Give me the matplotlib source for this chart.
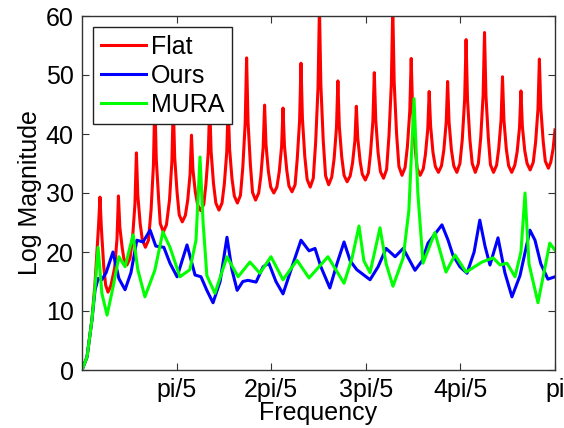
import matplotlib
matplotlib.use("Agg")
import matplotlib.pyplot as plt

plt.rcParams['font.family'] = ['Liberation Sans', 'DejaVu Sans']

# frequency in units of pi
flat_freq = [0.0, 0.0106, 0.021, 0.0275, 0.0317, 0.035, 0.038, 0.041, 0.046,
             0.050, 0.055, 0.061, 0.069, 0.074, 0.077, 0.080, 0.085,
             0.0885, 0.095, 0.1015, 0.107, 0.112, 0.115, 0.118, 0.123,
             0.1275, 0.134, 0.1405, 0.146, 0.151, 0.154, 0.157, 0.162,
             0.1655, 0.172, 0.1785, 0.185, 0.190, 0.193, 0.196, 0.201,
             0.2055, 0.212, 0.2185, 0.2235, 0.2285, 0.2315, 0.2345, 0.2395,
             0.2445, 0.251, 0.2575, 0.262, 0.267, 0.270, 0.273, 0.278,
             0.283, 0.2895, 0.296, 0.301, 0.306, 0.309, 0.312, 0.317,
             0.322, 0.3285, 0.335, 0.340, 0.345, 0.348, 0.351, 0.356,
             0.3605, 0.367, 0.3735, 0.378, 0.383, 0.386, 0.389, 0.394,
             0.399, 0.4055, 0.412, 0.417, 0.422, 0.425, 0.428, 0.433,
             0.4375, 0.444, 0.4505, 0.455, 0.460, 0.463, 0.466, 0.471,
             0.476, 0.4825, 0.489, 0.494, 0.499, 0.502, 0.505, 0.510,
             0.515, 0.5215, 0.528, 0.533, 0.538, 0.541, 0.544, 0.549,
             0.554, 0.5605, 0.567, 0.572, 0.577, 0.580, 0.583, 0.588,
             0.5925, 0.599, 0.6055, 0.610, 0.615, 0.618, 0.621, 0.626,
             0.631, 0.6375, 0.644, 0.649, 0.654, 0.657, 0.660, 0.665,
             0.670, 0.6765, 0.683, 0.688, 0.693, 0.696, 0.699, 0.704,
             0.7085, 0.715, 0.7215, 0.726, 0.731, 0.734, 0.737, 0.742,
             0.747, 0.7535, 0.760, 0.765, 0.770, 0.773, 0.776, 0.781,
             0.786, 0.7925, 0.799, 0.804, 0.809, 0.812, 0.815, 0.820,
             0.825, 0.8315, 0.838, 0.843, 0.848, 0.851, 0.854, 0.859,
             0.8635, 0.870, 0.8765, 0.881, 0.886, 0.889, 0.892, 0.897,
             0.902, 0.9085, 0.915, 0.920, 0.925, 0.928, 0.931, 0.936,
             0.941, 0.9475, 0.954, 0.959, 0.964, 0.967, 0.970, 0.975,
             0.9795, 0.986, 0.991, 0.996, 1.0]
flat_vals = [0.0, 2.2, 8.5, 14.7, 20.3, 24.5, 29.3, 24.0, 17.5,
             14.4, 13.2, 14.3, 17.3, 22.2, 29.5, 24.2, 20.7,
             18.9, 17.8, 18.9, 22.5, 28.2, 36.8, 29.6, 24.8,
             22.1, 20.8, 22.0, 27.1, 34.7, 46.0, 35.8, 29.0,
             24.8, 23.4, 24.6, 28.8, 35.3, 45.0, 36.0, 30.1,
             26.3, 25.1, 26.2, 28.8, 33.2, 39.8, 34.0, 30.2,
             28.0, 27.0, 28.1, 31.5, 36.9, 45.0, 37.0, 31.6,
             28.3, 27.1, 28.3, 31.6, 36.9, 45.0, 37.5, 32.5,
             29.5, 28.3, 29.6, 34.4, 41.8, 52.9, 42.1, 34.8,
             30.1, 28.8, 30.0, 32.8, 37.7, 44.9, 38.2, 33.7,
             31.0, 30.0, 31.0, 33.6, 37.9, 44.4, 38.0, 33.8,
             31.2, 30.2, 31.4, 35.7, 42.2, 52.0, 42.6, 36.2,
             32.3, 31.0, 32.5, 38.6, 47.9, 61.5, 48.3, 38.9,
             32.9, 31.4, 32.7, 35.8, 41.1, 49.0, 41.3, 36.2,
             33.0, 31.9, 32.9, 35.1, 38.9, 44.7, 39.3, 35.4,
             33.2, 32.2, 33.4, 36.8, 42.2, 50.4, 42.4, 36.8,
             33.6, 32.5, 34.0, 39.7, 48.5, 61.5, 48.8, 40.1,
             34.5, 33.0, 34.3, 37.9, 43.9, 52.8, 43.9, 37.9,
             34.2, 33.0, 34.1, 36.5, 40.8, 47.2, 41.4, 36.9,
             34.5, 33.5, 34.6, 37.3, 42.0, 48.9, 42.0, 37.3,
             34.6, 33.5, 35.0, 39.1, 45.9, 56.0, 45.9, 39.1,
             35.0, 33.5, 35.0, 39.4, 46.5, 57.2, 46.5, 39.4,
             34.8, 33.5, 34.7, 37.5, 42.4, 49.7, 42.4, 37.5,
             34.6, 33.5, 34.7, 37.0, 41.1, 47.3, 41.3, 37.2,
             35.0, 33.9, 35.2, 38.6, 44.2, 52.7, 44.4, 38.8,
             35.4, 34.2, 35.2, 37.5, 40.7]

ours_freq = [0.0, 0.0106, 0.021, 0.0275, 0.034, 0.042, 0.051, 0.0655, 0.078, 0.091,
             0.1035, 0.116, 0.129, 0.144, 0.156, 0.173, 0.186, 0.201, 0.222, 0.239,
             0.2515, 0.264, 0.277, 0.292, 0.3065, 0.317, 0.328, 0.340, 0.351, 0.368,
             0.383, 0.395, 0.410, 0.425, 0.444, 0.463, 0.480, 0.4926, 0.505, 0.524,
             0.539, 0.554, 0.567, 0.581, 0.609, 0.626, 0.643, 0.662, 0.679, 0.704,
             0.719, 0.7315, 0.761, 0.774, 0.784, 0.799, 0.814, 0.829, 0.841, 0.852,
             0.8625, 0.8795, 0.894, 0.909, 0.926, 0.947, 0.9577, 0.970, 0.985, 1.0]
ours_vals = [0.0, 2.2, 8.5, 13.5, 15.5, 15.3, 16.5, 20.0, 15.5, 13.6,
             16.5, 22.0, 21.7, 23.7, 21.0, 20.8, 18.1, 15.8, 21.2, 16.1,
             15.8, 13.5, 11.4, 15.0, 22.5, 17.0, 13.5, 15.0, 15.2, 14.9,
             17.5, 18.1, 15.0, 12.9, 17.5, 22.0, 20.2, 20.6, 17.5, 13.9,
             18.0, 21.7, 18.5, 17.0, 15.3, 17.5, 20.6, 19.2, 20.6, 16.9,
             18.5, 21.5, 24.6, 22.0, 19.5, 17.5, 16.4, 20.0, 25.4, 21.0,
             17.8, 22.4, 16.5, 12.4, 16.0, 23.7, 22.0, 18.0, 15.4, 15.8]

mura_freq = [0.0, 0.0106, 0.021, 0.0275, 0.034, 0.042, 0.053, 0.0655, 0.078, 0.091,
             0.108, 0.118, 0.133, 0.154, 0.171, 0.186, 0.207, 0.228, 0.241, 0.2495,
             0.256, 0.264, 0.281, 0.3065, 0.330, 0.355, 0.376, 0.3995, 0.425, 0.4545,
             0.480, 0.520, 0.554, 0.571, 0.5856, 0.596, 0.609, 0.630, 0.643, 0.6575,
             0.679, 0.691, 0.702, 0.710, 0.721, 0.746, 0.7695, 0.7886, 0.812, 0.8457,
             0.869, 0.884, 0.8985, 0.9155, 0.928, 0.9366, 0.945, 0.964, 0.989, 1.0]
mura_vals = [0.0, 2.2, 8.5, 14.0, 20.8, 13.0, 9.3, 14.0, 19.2, 17.5,
             22.9, 17.0, 12.4, 16.9, 23.4, 20.8, 15.8, 17.0, 22.0, 36.1,
             25.0, 16.0, 13.0, 19.2, 15.8, 18.3, 16.4, 19.2, 15.3, 18.6,
             15.6, 19.2, 14.7, 19.0, 24.4, 18.5, 16.5, 24.1, 18.0, 14.2,
             19.0, 27.0, 46.0, 30.0, 18.1, 23.3, 16.6, 19.5, 16.6, 18.3,
             19.0, 17.8, 18.1, 15.8, 20.0, 30.0, 18.0, 11.4, 21.5, 20.3]

series_names = ['Flat', 'Ours', 'MURA']
series_colors = ['#ff0000', '#0000ff', '#00ff00']

xtick_pos = [0.2, 0.4, 0.6, 0.8, 1.0]
xtick_labels = ['pi/5', '2pi/5', '3pi/5', '4pi/5', 'pi']
ytick_pos = [0, 10, 20, 30, 40, 50, 60]

fig = plt.figure(figsize=(5.64, 4.28), dpi=100)
ax = fig.add_axes([82/564, (428-370)/428, (555-82)/564, (370-16)/428])

for xs, ys, name, c in zip([flat_freq, ours_freq, mura_freq],
                           [flat_vals, ours_vals, mura_vals],
                           series_names, series_colors):
    ax.plot(xs, ys, color=c, lw=2.2, label=name, solid_joinstyle='round')

ax.set_xlim(0, 1)
ax.set_ylim(0, 60)
ax.set_xticks(xtick_pos)
ax.set_xticklabels(xtick_labels)
ax.set_yticks(ytick_pos)
ax.tick_params(direction='in', top=True, right=True, length=5, width=0.8,
               labelsize=18, pad=6, color='#333333')
for s in ax.spines.values():
    s.set_linewidth(1.0)
    s.set_color('#333333')
ax.set_xlabel('Frequency', fontsize=18, labelpad=-1)
ax.set_ylabel('Log Magnitude', fontsize=18, labelpad=3)

leg = ax.legend(loc='upper left', fontsize=18, fancybox=False, framealpha=1,
                edgecolor='#222222', handlelength=1.8, handletextpad=0.2,
                labelspacing=0.2, borderpad=0.3, borderaxespad=0.45)
leg.get_frame().set_linewidth(1.0)

fig.savefig('out.png', dpi=100)
